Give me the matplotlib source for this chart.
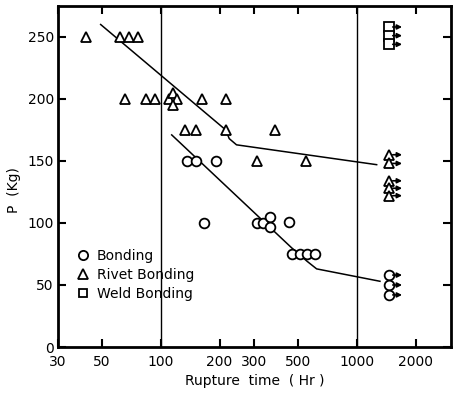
import numpy as np
import matplotlib.pyplot as plt

# Bonding (circles)
bond_x = [136, 151, 191, 167, 309, 334, 361, 361, 453, 466, 513, 560, 612]
bond_y = [150, 150, 150, 100, 100, 100, 105, 97, 101, 75, 75, 75, 75]
bond_run_x = [1470, 1470, 1470]
bond_run_y = [58, 50, 42]

# Rivet bonding (triangles)
rivet_x = [41.6, 62, 69, 77, 65.7, 84, 94, 110, 116, 121, 116, 163, 215,
           134, 151, 215, 383, 312, 551]
rivet_y = [250, 250, 250, 250, 200, 200, 200, 200, 205, 200, 195, 200, 200,
           175, 175, 175, 175, 150, 150]
rivet_run_x = [1470, 1470, 1470, 1470, 1470]
rivet_run_y = [155, 148, 134, 128, 122]

# Weld bonding (squares), all run-outs
weld_run_x = [1470, 1470, 1470]
weld_run_y = [258, 251, 244]

# hand-drawn trend lines
bond_line_x = [114, 466, 560, 625, 1315]
bond_line_y = [171, 80, 69, 63, 53]
rivet_line_x = [49.5, 215, 224, 244, 1265]
rivet_line_y = [260, 175, 168, 163, 147]

xticks = [30, 50, 100, 200, 300, 500, 1000, 2000]
yticks = [0, 50, 100, 150, 200, 250]

plt.rcParams['font.family'] = ['DejaVu Sans']
fig = plt.figure(figsize=(4.55, 3.93), dpi=100)
ax = fig.add_axes([0.1275, 0.117, 0.8635, 0.868])

ax.set_xscale('log')
ax.set_xlim(30, 3025)
ax.set_ylim(0, 275)

ax.axvline(100, color='k', lw=1.0, zorder=1)
ax.axvline(1000, color='k', lw=1.0, zorder=1)

ax.plot(bond_line_x, bond_line_y, 'k-', lw=1.1, zorder=2)
ax.plot(rivet_line_x, rivet_line_y, 'k-', lw=1.1, zorder=2)

mk = dict(ls='none', mfc='white', mec='k', mew=1.3, zorder=3)
hb, = ax.plot(bond_x + bond_run_x, bond_y + bond_run_y, 'o', ms=7, **mk)
hr, = ax.plot(rivet_x + rivet_run_x, rivet_y + rivet_run_y, '^', ms=7, **mk)
hw, = ax.plot(weld_run_x, weld_run_y, 's', ms=6.5, **mk)

# run-out arrows
for x, y in zip(bond_run_x + rivet_run_x + weld_run_x,
                bond_run_y + rivet_run_y + weld_run_y):
    ax.annotate('', xy=(x * 1.16, y), xytext=(x * 1.04, y),
                arrowprops=dict(arrowstyle='-|>', color='k', lw=1.2,
                                mutation_scale=7, shrinkA=0, shrinkB=0),
                zorder=4)

ax.set_xticks(xticks)
ax.set_xticklabels([str(t) for t in xticks])
ax.xaxis.set_minor_locator(plt.NullLocator())
ax.set_yticks(yticks)
ax.tick_params(direction='in', length=6, width=1.5, top=True, right=True,
               labelsize=10, pad=3)
ax.tick_params(axis='x', pad=6)
for s in ax.spines.values():
    s.set_linewidth(2)

ax.set_xlabel('Rupture  time  ( Hr )', fontsize=10, labelpad=3)
ax.set_ylabel('P  (Kg)', fontsize=10, labelpad=2)
ax.yaxis.set_label_coords(-0.095, 0.46)

ax.legend([hb, hr, hw], ['Bonding', 'Rivet Bonding', 'Weld Bonding'],
          loc='lower left', bbox_to_anchor=(0.035, 0.12), frameon=False,
          handlelength=0.8, handletextpad=0.6, labelspacing=0.35,
          borderaxespad=0, fontsize=10, markerscale=0.95)

fig.savefig('out.png', dpi=100)
